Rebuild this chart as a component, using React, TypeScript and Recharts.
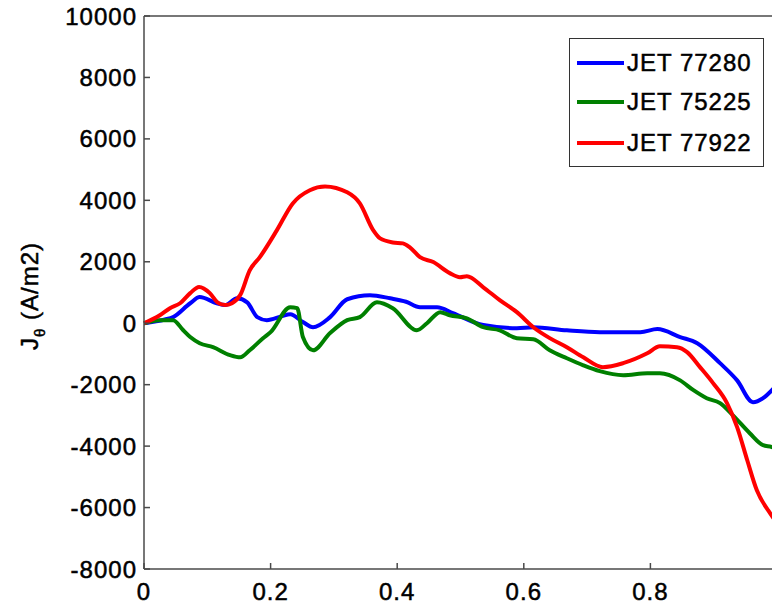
import React from 'react';
import { LineChart, Line, XAxis, YAxis } from 'recharts';

// JET 77280
const xBlue = [0, 0.033, 0.046, 0.073, 0.088, 0.115, 0.128, 0.147, 0.163, 0.179, 0.194, 0.218, 0.231, 0.251, 0.267, 0.294, 0.321, 0.357, 0.389, 0.414, 0.436, 0.463, 0.488, 0.536, 0.589, 0.615, 0.668, 0.72, 0.784, 0.811, 0.847, 0.874, 0.91, 0.937, 0.962, 0.978, 0.992, 1.0];
const yBlue = [0, 120, 200, 650, 850, 650, 590, 810, 680, 200, 100, 230, 290, 40, -130, 200, 780, 910, 810, 700, 520, 520, 330, -60, -160, -130, -230, -290, -290, -190, -450, -650, -1300, -1860, -2570, -2440, -2180, -2000];

// JET 75225
const xGreen = [0, 0.025, 0.046, 0.062, 0.073, 0.088, 0.109, 0.136, 0.152, 0.167, 0.188, 0.2, 0.231, 0.242, 0.251, 0.267, 0.294, 0.321, 0.341, 0.368, 0.393, 0.431, 0.447, 0.468, 0.483, 0.51, 0.536, 0.562, 0.589, 0.615, 0.641, 0.668, 0.694, 0.72, 0.757, 0.795, 0.815, 0.847, 0.868, 0.889, 0.91, 0.93, 0.957, 0.978, 0.992, 1.0];
const yGreen = [0, 100, 100, -230, -450, -650, -780, -1040, -1110, -880, -490, -290, 520, 490, -450, -880, -320, 100, 200, 680, 490, -230, 0, 360, 260, 160, -130, -230, -490, -520, -880, -1140, -1370, -1560, -1690, -1630, -1630, -1860, -2180, -2440, -2600, -2990, -3580, -3970, -4030, -4100];

// JET 77922
const xRed = [0, 0.025, 0.041, 0.057, 0.073, 0.087, 0.104, 0.116, 0.128, 0.139, 0.152, 0.167, 0.183, 0.21, 0.235, 0.262, 0.286, 0.321, 0.341, 0.362, 0.373, 0.393, 0.409, 0.42, 0.436, 0.457, 0.483, 0.499, 0.51, 0.536, 0.562, 0.589, 0.615, 0.641, 0.668, 0.694, 0.725, 0.757, 0.795, 0.815, 0.842, 0.858, 0.878, 0.899, 0.921, 0.937, 0.953, 0.968, 0.989, 1.0];
const yRed = [0, 260, 490, 650, 980, 1180, 980, 680, 590, 650, 915, 1720, 2150, 3030, 3900, 4330, 4450, 4260, 3900, 3030, 2760, 2630, 2600, 2470, 2150, 1990, 1630, 1500, 1530, 1170, 750, 360, -130, -485, -780, -1110, -1430, -1300, -980, -750, -780, -940, -1420, -1950, -2600, -3380, -4460, -5430, -6180, -6500];

const xTicks = [0, 0.2, 0.4, 0.6, 0.8];
const yTicks = [-8000, -6000, -4000, -2000, 0, 2000, 4000, 6000, 8000, 10000];

const seriesList = [
  { name: 'JET 77280', color: '#0000ff', xs: xBlue, ys: yBlue },
  { name: 'JET 75225', color: '#008000', xs: xGreen, ys: yGreen },
  { name: 'JET 77922', color: '#ff0000', xs: xRed, ys: yRed },
];

const FONT = '"Liberation Sans", Arial, sans-serif';
const AXIS = '#4a4a4a';
// regular face with a thin outline, closer to the semi-heavy matlab text
const tickStyle = { fontSize: 24, fill: '#000', stroke: '#000', strokeWidth: 0.5, fontFamily: FONT, letterSpacing: 1 };

const toRows = (xs: number[], ys: number[]) => xs.map((x, i) => ({ x, y: ys[i] }));

// rotated y label with a theta subscript
const YLabel = () => (
  <text
    transform="translate(38, 296) rotate(-90)"
    textAnchor="middle"
    fill="#000"
    stroke="#000"
    strokeWidth={0.5}
    style={{ fontFamily: FONT, fontSize: 24, letterSpacing: 1 }}
  >
    J
    <tspan fontSize={15} dy={7}>θ</tspan>
    <tspan dy={-7}> (A/m2)</tspan>
  </text>
);

export default function App() {
  return (
    <div
      style={{
        position: 'absolute',
        left: 0,
        top: 0,
        width: 772,
        height: 605,
        overflow: 'hidden',
        background: '#fff',
      }}
    >
      <LineChart width={790} height={605} margin={{ top: 0, right: 0, bottom: 0, left: 0 }}>
        <XAxis
          type="number"
          dataKey="x"
          domain={[0, 1]}
          ticks={xTicks}
          allowDuplicatedCategory={false}
          height={36}
          stroke={AXIS}
          strokeWidth={1.5}
          tickSize={-6}
          tickMargin={20}
          tick={tickStyle}
        />
        <XAxis
          xAxisId="top"
          orientation="top"
          type="number"
          domain={[0, 1]}
          ticks={xTicks}
          height={16}
          stroke={AXIS}
          strokeWidth={1.5}
          tickSize={-6}
          tick={false}
        />
        <YAxis
          type="number"
          domain={[-8000, 10000]}
          ticks={yTicks}
          width={144}
          stroke={AXIS}
          strokeWidth={1.5}
          tickSize={-6}
          tickMargin={13}
          tick={tickStyle}
          label={<YLabel />}
        />
        <YAxis
          yAxisId="right"
          orientation="right"
          type="number"
          domain={[-8000, 10000]}
          ticks={yTicks}
          width={13}
          stroke={AXIS}
          strokeWidth={1.5}
          tickSize={-6}
          tick={false}
        />
        {seriesList.map(s => (
          <Line
            key={s.name}
            data={toRows(s.xs, s.ys)}
            dataKey="y"
            name={s.name}
            type="monotone"
            stroke={s.color}
            strokeWidth={4}
            dot={false}
            isAnimationActive={false}
          />
        ))}
      </LineChart>

      {/* legend box, top right like the matlab figure */}
      <div
        style={{
          position: 'absolute',
          left: 569,
          top: 38,
          width: 193,
          height: 127,
          border: '1.5px solid #333',
          background: '#fff',
          fontFamily: FONT,
        }}
      >
        {seriesList.map((s, i) => (
          <div
            key={s.name}
            style={{
              position: 'absolute',
              left: 7,
              top: [24, 63, 104][i] - 15,
              height: 30,
              display: 'flex',
              alignItems: 'center',
            }}
          >
            <svg width="47" height="6" style={{ display: 'block' }}>
              <line x1="0" y1="3" x2="47" y2="3" stroke={s.color} strokeWidth="4" />
            </svg>
            <span
              style={{
                fontSize: 24,
                letterSpacing: 1,
                marginLeft: 3,
                color: '#000',
                lineHeight: '30px',
                WebkitTextStroke: '0.5px #000',
              }}
            >
              {s.name}
            </span>
          </div>
        ))}
      </div>
    </div>
  );
}
